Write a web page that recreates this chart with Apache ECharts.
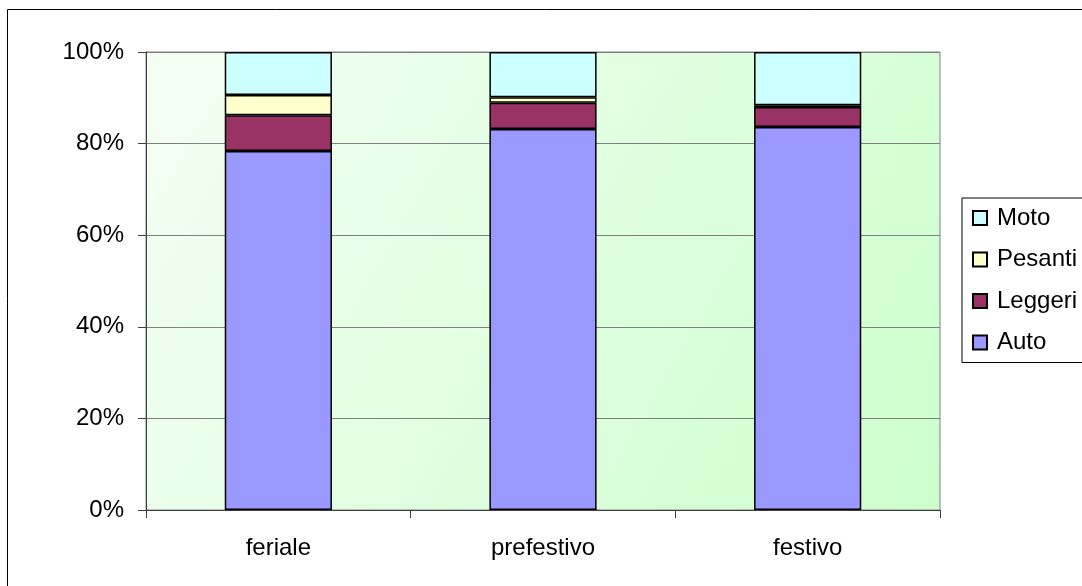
<!DOCTYPE html>
<html>
<head>
<meta charset="utf-8">
<script src="https://cdn.jsdelivr.net/npm/echarts@6/dist/echarts.min.js"></script>
<style>
  html, body { margin: 0; padding: 0; background: #ffffff; }
  #chart { width: 1082px; height: 586px; }
</style>
</head>
<body>
<div id="chart"></div>
<script>
// Vehicle mix by day type (share of traffic, %)
const categories = ['feriale', 'prefestivo', 'festivo'];
const auto    = [78.4, 83.2, 83.6];
const leggeri = [7.8, 5.7, 4.4];
const pesanti = [4.4, 1.2, 0.4];
const moto    = [9.4, 9.9, 11.6];
const yTicks  = [0, 20, 40, 60, 80, 100];

const FONT = '"Liberation Sans", Arial, sans-serif';

const chart = echarts.init(document.getElementById('chart'), null, { renderer: 'canvas' });

function barSeries(name, data, color) {
  return {
    name: name,
    type: 'bar',
    stack: 'total',
    data: data,
    barWidth: '40.5%',
    itemStyle: { color: color, borderColor: '#000000', borderWidth: 1.5 }
  };
}

chart.setOption({
  animation: false,
  backgroundColor: '#ffffff',
  textStyle: { fontFamily: FONT },
  graphic: [{
    type: 'rect',
    shape: { x: 7.5, y: 9.5, width: 1200, height: 700 },
    style: { fill: 'none', stroke: '#000000', lineWidth: 1 },
    silent: true,
    z: 100
  }],
  grid: {
    left: 146, right: 142, top: 52, bottom: 76,
    show: true,
    borderColor: '#808080',
    borderWidth: 1,
    backgroundColor: {
      type: 'linear', x: 0, y: 0, x2: 1, y2: 1,
      colorStops: [
        { offset: 0, color: '#f4fef4' },
        { offset: 1, color: '#ccffcc' }
      ]
    }
  },
  legend: {
    orient: 'vertical',
    left: 962, top: 198,
    padding: [8, 40, 8, 10],
    borderColor: '#000000', borderWidth: 1,
    icon: 'rect',
    itemWidth: 14, itemHeight: 14,
    itemGap: 17.5,
    data: ['Moto', 'Pesanti', 'Leggeri', 'Auto'],
    textStyle: { fontFamily: FONT, fontSize: 24, color: '#000000', lineHeight: 24, padding: [0, 0, 0, 5] }
  },
  xAxis: {
    type: 'category',
    data: categories,
    axisLine: { lineStyle: { color: '#404040', width: 1 } },
    axisTick: { show: true, length: 8, alignWithLabel: false, lineStyle: { color: '#404040' } },
    axisLabel: { margin: 26, fontSize: 24, color: '#000000', fontFamily: FONT },
    splitLine: { show: false }
  },
  yAxis: {
    type: 'value',
    min: yTicks[0], max: yTicks[yTicks.length - 1], interval: 20,
    axisLine: { show: true, lineStyle: { color: '#404040', width: 1 } },
    axisTick: { show: true, length: 8, lineStyle: { color: '#404040' } },
    axisLabel: { margin: 22, fontSize: 24, color: '#000000', fontFamily: FONT, formatter: '{value}%' },
    splitLine: { show: true, lineStyle: { color: '#808080', width: 1 } }
  },
  series: [
    barSeries('Auto', auto, '#9999ff'),
    barSeries('Leggeri', leggeri, '#993366'),
    barSeries('Pesanti', pesanti, '#ffffcc'),
    barSeries('Moto', moto, '#ccffff')
  ]
});
</script>
</body>
</html>
